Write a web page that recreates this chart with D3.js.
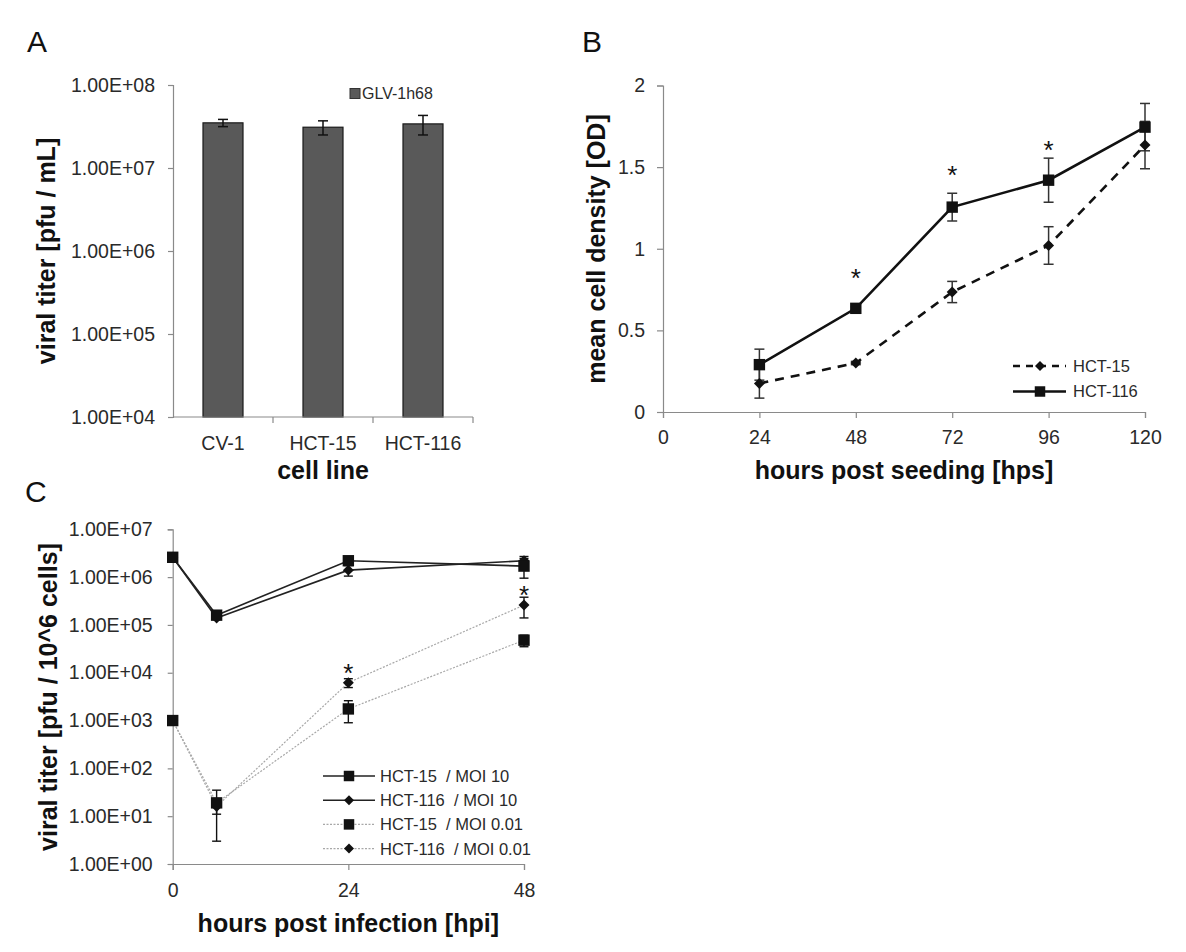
<!DOCTYPE html>
<html><head><meta charset="utf-8">
<script src="https://cdn.jsdelivr.net/npm/d3@7"></script>
<style>
body{margin:0;background:#fff;}
svg{display:block;font-family:"Liberation Sans",Arial,sans-serif;}
</style></head><body>
<svg id="chart" width="1186" height="952"></svg>
<script>
// ---------- Panel A data ----------
const aCategories = ["CV-1", "HCT-15", "HCT-116"];
const aValues = [3.5e7, 3.1e7, 3.4e7];
const aErrors = [0.35e7, 0.6e7, 0.9e7];
const aSeriesName = "GLV-1h68";
const aTicks = [1e4, 1e5, 1e6, 1e7, 1e8];

// ---------- Panel B data ----------
const bHours = [24, 48, 72, 96, 120];
const bHct15 = [0.175, 0.30, 0.735, 1.02, 1.635];
const bHct15Err = [0.09, 0.01, 0.065, 0.115, 0.145];
const bHct116 = [0.29, 0.635, 1.255, 1.42, 1.745];
const bHct116Err = [0.095, 0.01, 0.085, 0.135, 0.145];
const bXTicks = [0, 24, 48, 72, 96, 120];
const bYTicks = [0, 0.5, 1, 1.5, 2];
const bStars = [{x: 48, y: 0.86}, {x: 72, y: 1.486}, {x: 96, y: 1.641}];

// ---------- Panel C data ----------
const cHours = [0, 6, 24, 48];
const cHct15Moi10 = [2.6e6, 1.6e5, 2.2e6, 1.7e6];
const cHct15Moi10Err = [0, 0, 0.2e6, 0.75e6];
const cHct116Moi10 = [2.6e6, 1.4e5, 1.4e6, 2.2e6];
const cHct116Moi10Err = [0, 0, 0.35e6, 0.5e6];
const cHct15Moi001 = [1e3, 19, 1.75e3, 4.8e4];
const cHct15Moi001Err = [0, 16, 0.85e3, 1.3e4];
const cHct116Moi001 = [1e3, 16, 6.2e3, 2.6e5];
const cHct116Moi001Err = [0, 5, 1.3e3, 1.2e5];
const cXTicks = [0, 24, 48];
const cYTicks = [1, 1e1, 1e2, 1e3, 1e4, 1e5, 1e6, 1e7];
const cStars = [{x: 24, y: 1.34e4}, {x: 48, y: 5.56e5}];
const cSeriesNames = ["HCT-15  / MOI 10", "HCT-116  / MOI 10", "HCT-15  / MOI 0.01", "HCT-116  / MOI 0.01"];

// ---------- helpers ----------
const svg = d3.select("#chart");
const AXIS = "#8a8a8a", TXT = "#2a2a2a", INK = "#111";
const sciFmt = d => "1.00E+" + String(Math.round(Math.log10(d))).padStart(2, "0");
const diamond = {draw(ctx, size) { const r = Math.sqrt(size / 2); ctx.moveTo(0, -r); ctx.lineTo(r, 0); ctx.lineTo(0, r); ctx.lineTo(-r, 0); ctx.closePath(); }};
const symSquare = d3.symbol().type(d3.symbolSquare);
const symDiamond = d3.symbol().type(diamond);

function styleAxis(g) {
  g.select(".domain").attr("stroke", AXIS).attr("stroke-width", 1.2);
  g.selectAll(".tick line").attr("stroke", AXIS).attr("stroke-width", 1.2);
  g.selectAll(".tick text").attr("fill", TXT).attr("font-size", 19.5);
}
function yTitle(x, y, t) {
  svg.append("text").attr("transform", `translate(${x},${y}) rotate(-90)`).attr("text-anchor", "middle")
    .attr("font-size", 25).attr("font-weight", "bold").attr("fill", "#111").text(t);
}
function xTitle(x, y, t) {
  svg.append("text").attr("x", x).attr("y", y).attr("text-anchor", "middle")
    .attr("font-size", 25).attr("font-weight", "bold").attr("fill", "#111").text(t);
}
function panelLetter(x, y, t) {
  svg.append("text").attr("x", x).attr("y", y).attr("font-size", 30).attr("fill", "#111").text(t);
}
function errBars(g, xs, ys, es, x, y, cap, color, w) {
  xs.forEach((xv, i) => {
    if (!es[i]) return;
    const lo = Math.max(ys[i] - es[i], y.domain()[0]);
    const hi = ys[i] + es[i];
    const cx = x(xv);
    g.append("line").attr("x1", cx).attr("x2", cx).attr("y1", y(lo)).attr("y2", y(hi)).attr("stroke", color).attr("stroke-width", w);
    [lo, hi].forEach(v => g.append("line").attr("x1", cx - cap).attr("x2", cx + cap).attr("y1", y(v)).attr("y2", y(v)).attr("stroke", color).attr("stroke-width", w));
  });
}

// ================= Panel A =================
panelLetter(27, 52, "A");
{
  const x = d3.scaleBand().domain(aCategories).range([173, 473]).paddingInner(0.6).paddingOuter(0.3);
  const y = d3.scaleLog().domain([1e4, 1e8]).range([417, 85]);
  const g = svg.append("g");
  const ya = g.append("g").attr("transform", "translate(173,0)")
    .call(d3.axisLeft(y).tickValues(aTicks).tickFormat(sciFmt).tickSize(5).tickPadding(13));
  styleAxis(ya);
  g.selectAll("rect.bar").data(aValues).join("rect").attr("class", "bar")
    .attr("x", (d, i) => x(aCategories[i])).attr("width", x.bandwidth())
    .attr("y", d => y(d)).attr("height", d => y(1e4) - y(d))
    .attr("fill", "#595959").attr("stroke", "#1a1a1a").attr("stroke-width", 1.2);
  errBars(g, aCategories, aValues, aErrors, c => x(c) + x.bandwidth() / 2, y, 5, "#111", 1.5);
  // x axis
  g.append("line").attr("x1", 173).attr("x2", 473).attr("y1", y(1e4)).attr("y2", y(1e4)).attr("stroke", AXIS).attr("stroke-width", 1.2);
  aCategories.forEach(c => {
    const xe = x(c) + x.bandwidth() + x.step() * x.paddingInner() / 2;
    g.append("line").attr("x1", xe).attr("x2", xe).attr("y1", y(1e4)).attr("y2", y(1e4) + 6).attr("stroke", AXIS).attr("stroke-width", 1.2);
    g.append("text").attr("x", x(c) + x.bandwidth() / 2).attr("y", 450).attr("text-anchor", "middle")
      .attr("font-size", 19.5).attr("fill", TXT).text(c);
  });
  // legend
  g.append("rect").attr("x", 350).attr("y", 88.5).attr("width", 10).attr("height", 10).attr("fill", "#595959").attr("stroke", "#333");
  g.append("text").attr("x", 362).attr("y", 99).attr("font-size", 16).attr("fill", TXT).text(aSeriesName);
  yTitle(55, 251, "viral titer [pfu / mL]");
  xTitle(323, 479, "cell line");
}

// ================= Panel B =================
panelLetter(582, 52, "B");
{
  const x = d3.scaleLinear().domain([0, 120]).range([663, 1145]);
  const y = d3.scaleLinear().domain([0, 2]).range([412, 85.5]);
  const g = svg.append("g");
  const ya = g.append("g").attr("transform", "translate(663,0)")
    .call(d3.axisLeft(y).tickValues(bYTicks).tickFormat(d => String(d)).tickSize(6).tickPadding(12));
  styleAxis(ya);
  const xa = g.append("g").attr("transform", "translate(0,412)")
    .call(d3.axisBottom(x).tickValues(bXTicks).tickSize(6).tickPadding(12));
  styleAxis(xa);
  xa.selectAll(".tick text").attr("dy", 0).attr("y", 32);
  errBars(g, bHours, bHct15, bHct15Err, x, y, 5, "#333", 1.5);
  errBars(g, bHours, bHct116, bHct116Err, x, y, 5, "#333", 1.5);
  const line = d3.line().x((d, i) => x(bHours[i])).y(d => y(d));
  g.append("path").datum(bHct15).attr("d", line).attr("fill", "none").attr("stroke", INK).attr("stroke-width", 2.6).attr("stroke-dasharray", "9,7");
  g.append("path").datum(bHct116).attr("d", line).attr("fill", "none").attr("stroke", INK).attr("stroke-width", 2.6);
  g.selectAll("path.d15").data(bHct15).join("path").attr("class", "d15")
    .attr("transform", (d, i) => `translate(${x(bHours[i])},${y(d)})`).attr("d", symDiamond.size(60)).attr("fill", INK);
  g.selectAll("path.s116").data(bHct116).join("path").attr("class", "s116")
    .attr("transform", (d, i) => `translate(${x(bHours[i])},${y(d)})`).attr("d", symSquare.size(130)).attr("fill", INK);
  g.selectAll("text.star").data(bStars).join("text").attr("class", "star")
    .attr("x", d => x(d.x)).attr("y", d => y(d.y) + 15).attr("text-anchor", "middle")
    .attr("font-size", 26).attr("fill", INK).text("*");
  // legend
  const leg = [{name: "HCT-15", dash: "7,6", sym: symDiamond.size(50)}, {name: "HCT-116", dash: null, sym: symSquare.size(110)}];
  leg.forEach((L, i) => {
    const ly = 366 + i * 25.5;
    g.append("line").attr("x1", 1013).attr("x2", 1066).attr("y1", ly).attr("y2", ly).attr("stroke", INK).attr("stroke-width", 2.6)
      .attr("stroke-dasharray", L.dash);
    g.append("path").attr("transform", `translate(1040,${ly})`).attr("d", L.sym).attr("fill", INK);
    g.append("text").attr("x", 1073).attr("y", ly).attr("dy", "0.36em").attr("font-size", 16.5).attr("fill", TXT).text(L.name);
  });
  yTitle(605, 249, "mean cell density [OD]");
  xTitle(904, 479, "hours post seeding [hps]");
}

// ================= Panel C =================
panelLetter(25, 502, "C");
{
  const x = d3.scaleLinear().domain([0, 48]).range([172.7, 524]);
  const y = d3.scaleLog().domain([1, 1e7]).range([864, 529.3]);
  const g = svg.append("g");
  const ya = g.append("g").attr("transform", "translate(172.7,0)")
    .call(d3.axisLeft(y).tickValues(cYTicks).tickFormat(sciFmt).tickSize(5).tickPadding(15));
  styleAxis(ya);
  const xa = g.append("g").attr("transform", "translate(0,864)")
    .call(d3.axisBottom(x).tickValues(cXTicks).tickSize(6).tickPadding(12));
  styleAxis(xa);
  xa.selectAll(".tick text").attr("dy", 0).attr("y", 33);
  const line = d3.line().x((d, i) => x(cHours[i])).y(d => y(d));
  const series = [
    {v: cHct15Moi10, e: cHct15Moi10Err, sym: "sq", solid: true},
    {v: cHct116Moi10, e: cHct116Moi10Err, sym: "di", solid: true},
    {v: cHct15Moi001, e: cHct15Moi001Err, sym: "sq", solid: false},
    {v: cHct116Moi001, e: cHct116Moi001Err, sym: "di", solid: false}
  ];
  series.forEach(s => errBars(g, cHours, s.v, s.e, x, y, 4.5, INK, 1.4));
  series.forEach(s => {
    g.append("path").datum(s.v).attr("d", line).attr("fill", "none")
      .attr("stroke", s.solid ? "#222" : "#a8a8a8").attr("stroke-width", s.solid ? 1.6 : 1.2)
      .attr("stroke-dasharray", s.solid ? null : "2,1.5");
  });
  series.slice().reverse().forEach(s => {
    g.selectAll(null).data(s.v).join("path")
      .attr("transform", (d, i) => `translate(${x(cHours[i])},${y(d)})`)
      .attr("d", s.sym === "sq" ? symSquare.size(130) : symDiamond.size(60)).attr("fill", INK);
  });
  g.selectAll("text.star").data(cStars).join("text").attr("class", "star")
    .attr("x", d => x(d.x)).attr("y", d => y(d.y) + 15).attr("text-anchor", "middle")
    .attr("font-size", 26).attr("fill", INK).text("*");
  // legend
  series.forEach((s, i) => {
    const ly = 776 + i * 24.2;
    g.append("line").attr("x1", 323).attr("x2", 375).attr("y1", ly).attr("y2", ly)
      .attr("stroke", s.solid ? "#222" : "#a8a8a8").attr("stroke-width", s.solid ? 1.6 : 1.2)
      .attr("stroke-dasharray", s.solid ? null : "2,1.5");
    g.append("path").attr("transform", `translate(349,${ly})`)
      .attr("d", s.sym === "sq" ? symSquare.size(110) : symDiamond.size(50)).attr("fill", INK);
    g.append("text").attr("x", 380).attr("y", ly).attr("dy", "0.36em").attr("font-size", 16.5)
      .attr("fill", TXT).attr("xml:space", "preserve").style("white-space", "pre").text(cSeriesNames[i]);
  });
  yTitle(56.5, 697, "viral titer [pfu / 10^6 cells]");
  xTitle(348.3, 932, "hours post infection [hpi]");
}
</script>
</body></html>
